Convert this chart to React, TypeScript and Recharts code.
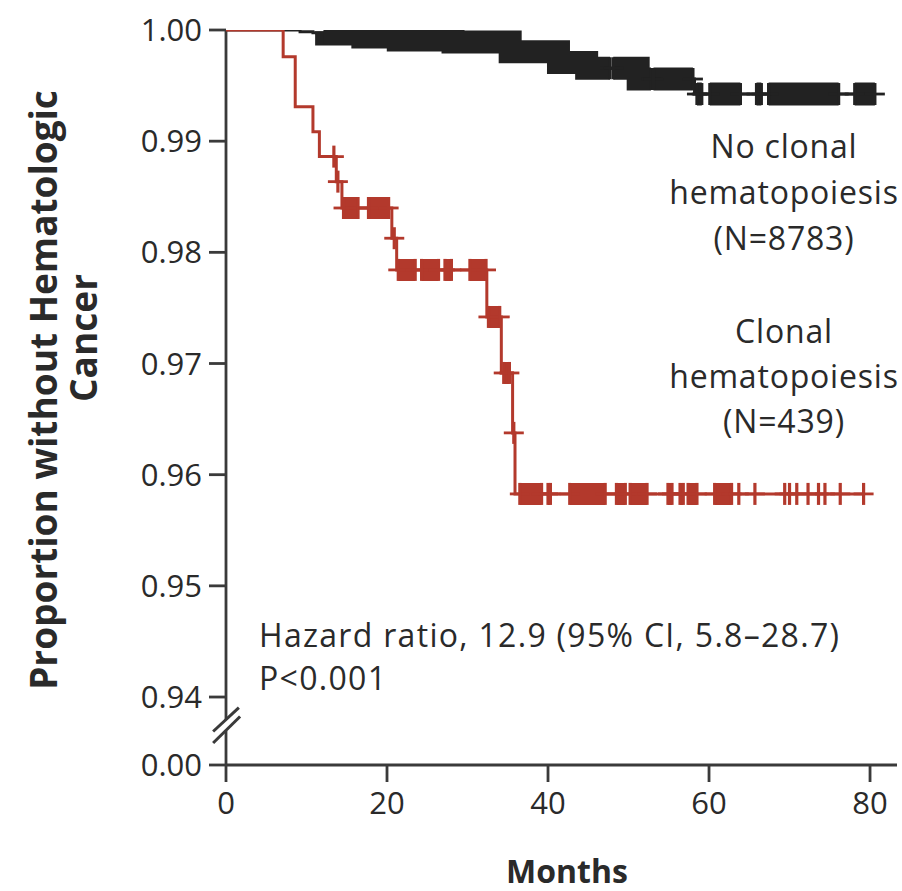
import React from 'react';
import { ComposedChart, Line, Scatter, XAxis, YAxis, ReferenceLine } from 'recharts';

// ---------- DATA ----------
// Kaplan-Meier step points [month, proportion without hematologic cancer]
const clonalSteps: number[][] = [
  [0, 1.0], [7.1, 0.9976], [8.6, 0.9931], [10.8, 0.99085], [11.6, 0.98861],
  [13.7, 0.98636], [14.4, 0.98399], [20.6, 0.98127], [21.2, 0.97842],
  [32.4, 0.97419], [34.2, 0.96915], [35.6, 0.96376], [35.9, 0.95827],
];
const clonalEnd = 79.2;
const noClonalSteps: number[][] = [
  [0, 1.0], [9.2, 0.99985], [10.8, 0.99975], [12.5, 0.99965], [17.0, 0.99937],
  [21.4, 0.9991], [28.2, 0.99892], [35.3, 0.99805], [41.3, 0.99708],
  [44.8, 0.99656], [51.2, 0.99559], [58.2, 0.99424],
];
const noClonalEnd = 80.6;

// Censoring runs [first censor month, last censor month]
const clonalCensorRuns: number[][] = [
  [13.4, 13.4], [13.9, 13.9], [14.6, 16.4], [17.7, 20.2], [20.9, 20.9],
  [21.4, 23.5], [24.3, 26.4], [27.2, 28.0], [30.3, 32.3], [32.6, 34.0],
  [34.5, 35.2], [35.75, 35.75], [36.5, 39.2], [40.0, 40.3], [42.7, 47.1],
  [48.5, 49.6], [50.2, 52.3], [54.9, 55.4], [56.4, 56.8], [57.4, 58.5],
  [60.7, 62.8], [63.7, 63.7], [65.7, 65.7], [69.4, 69.4], [70.0, 70.0],
  [70.9, 70.9], [72.3, 72.3], [73.6, 73.6], [74.4, 74.4], [76.3, 76.3],
  [79.2, 79.2],
];
const noClonalCensorRuns: number[][] = [
  [12.3, 47.7], [48.1, 52.8], [53.1, 58.0], [58.5, 59.1], [60.1, 63.9],
  [65.9, 66.5], [67.4, 76.1], [78.1, 80.6],
];

const xTicks = [0, 20, 40, 60, 80];
const xDomain = [0, 83.35];
const yTickValues = [0.933885, 0.94, 0.95, 0.96, 0.97, 0.98, 0.99, 1.0];
const yTickLabels = ['0.00', '0.94', '0.95', '0.96', '0.97', '0.98', '0.99', '1.00'];
const yDomain = [0.933885, 1.0];
// axis break geometry (data coordinates)
const axisUpper = [1.0, 0.93795];
const axisLower = [0.93696, 0.933885];
const slashA = [[-1.6, 0.9369], [1.6, 0.93905]];
const slashB = [[-1.6, 0.93586], [1.75, 0.93825]];

const noClonalLabel = ['No clonal', 'hematopoiesis', '(N=8783)'];
const clonalLabel = ['Clonal', 'hematopoiesis', '(N=439)'];
const statsLabel = ['Hazard ratio, 12.9 (95% CI, 5.8\u201328.7)', 'P<0.001'];
const yTitle = ['Proportion without Hematologic', 'Cancer'];
const xTitle = 'Months';

// ---------- STYLE ----------
const RED = '#b3392c';
const BLACK = '#222222';
const AXIS = '#3a3a3a';
const TEXT = '#2a2a2a';
const FONT = '"Open Sans", "Noto Sans", sans-serif';

type P = { t: number; v: number | null };

const valueAt = (steps: number[][], t: number) => {
  let v = steps[0][1];
  for (const s of steps) if (s[0] <= t) v = s[1];
  return v;
};

const curveData = (steps: number[][], end: number): P[] => {
  const pts: P[] = steps.map((s) => ({ t: s[0], v: s[1] }));
  pts.push({ t: end, v: steps[steps.length - 1][1] });
  return pts;
};

const bandData = (steps: number[][], runs: number[][]): P[] => {
  const pts: P[] = [];
  runs.forEach(([a, b]) => {
    if (b <= a) return;
    pts.push({ t: a, v: valueAt(steps, a) });
    steps.forEach((s) => {
      if (s[0] > a && s[0] <= b) pts.push({ t: s[0], v: s[1] });
    });
    pts.push({ t: b, v: valueAt(steps, b) });
    pts.push({ t: b, v: null });
  });
  return pts;
};

const censorData = (steps: number[][], runs: number[][]): P[] => {
  const pts: P[] = [];
  runs.forEach(([a, b]) => {
    pts.push({ t: a, v: valueAt(steps, a) });
    if (b > a) pts.push({ t: b, v: valueAt(steps, b) });
  });
  return pts;
};

const CensorMark = ({ cx, cy, color }: { cx: number; cy: number; color: string }) => (
  <g>
    <line x1={cx - 10} x2={cx + 10} y1={cy} y2={cy} stroke={color} strokeWidth={2.8} />
    <line x1={cx} x2={cx} y1={cy - 11} y2={cy + 11} stroke={color} strokeWidth={3.2} />
  </g>
);

export default function App() {
  const redLine = curveData(clonalSteps, clonalEnd);
  const blackLine = curveData(noClonalSteps, noClonalEnd);
  const redBand = bandData(clonalSteps, clonalCensorRuns);
  const blackBand = bandData(noClonalSteps, noClonalCensorRuns);
  const redCensors = censorData(clonalSteps, clonalCensorRuns);
  const blackCensors = censorData(noClonalSteps, noClonalCensorRuns);

  const txt = { fill: TEXT, fontFamily: FONT } as const;

  return (
    <div style={{ position: 'absolute', left: 0, top: 0, width: 902, height: 891, background: '#fff' }}>
      <ComposedChart width={902} height={891} margin={{ top: 30, right: 5, bottom: 66, left: 0 }}>
        <XAxis
          type="number"
          dataKey="t"
          domain={xDomain}
          ticks={xTicks}
          allowDataOverflow
          height={60}
          tickSize={17}
          tickMargin={10}
          axisLine={{ stroke: AXIS, strokeWidth: 2.8 }}
          tickLine={{ stroke: AXIS, strokeWidth: 2.8 }}
          tick={{ fill: TEXT, fontSize: 31, fontFamily: FONT }}
        />
        <YAxis
          type="number"
          domain={yDomain}
          ticks={yTickValues}
          allowDataOverflow
          width={226}
          tickSize={17}
          tickMargin={7}
          axisLine={false}
          tickLine={{ stroke: AXIS, strokeWidth: 2.8 }}
          tick={{ fill: TEXT, fontSize: 31, fontFamily: FONT }}
          tickFormatter={(_v: number, i: number) => yTickLabels[i]}
        />
        <ReferenceLine ifOverflow="visible" stroke={AXIS} strokeWidth={2.8}
          segment={[{ x: 0, y: axisUpper[0] }, { x: 0, y: axisUpper[1] }]} />
        <ReferenceLine ifOverflow="visible" stroke={AXIS} strokeWidth={2.8}
          segment={[{ x: 0, y: axisLower[0] }, { x: 0, y: axisLower[1] }]} />
        <ReferenceLine ifOverflow="visible" stroke={AXIS} strokeWidth={3}
          segment={[{ x: slashA[0][0], y: slashA[0][1] }, { x: slashA[1][0], y: slashA[1][1] }]} />
        <ReferenceLine ifOverflow="visible" stroke={AXIS} strokeWidth={3}
          segment={[{ x: slashB[0][0], y: slashB[0][1] }, { x: slashB[1][0], y: slashB[1][1] }]} />

        <Line data={blackLine} dataKey="v" type="stepAfter" stroke={BLACK} strokeWidth={3}
          dot={false} activeDot={false} isAnimationActive={false} />
        <Line data={blackBand} dataKey="v" type="stepAfter" stroke={BLACK} strokeWidth={23}
          strokeLinecap="butt" dot={false} activeDot={false} isAnimationActive={false} />
        <Scatter data={blackCensors} dataKey="v" isAnimationActive={false}
          shape={(p: any) => <CensorMark cx={p.cx} cy={p.cy} color={BLACK} />} />

        <Line data={redLine} dataKey="v" type="stepAfter" stroke={RED} strokeWidth={3}
          dot={false} activeDot={false} isAnimationActive={false} />
        <Line data={redBand} dataKey="v" type="stepAfter" stroke={RED} strokeWidth={22}
          strokeLinecap="butt" dot={false} activeDot={false} isAnimationActive={false} />
        <Scatter data={redCensors} dataKey="v" isAnimationActive={false}
          shape={(p: any) => <CensorMark cx={p.cx} cy={p.cy} color={RED} />} />
      </ComposedChart>

      <svg width={902} height={891} style={{ position: 'absolute', left: 0, top: 0, pointerEvents: 'none' }}>
        <text transform="translate(42,390) rotate(-90)" textAnchor="middle" dominantBaseline="central"
          fontSize={37} fontWeight={700} {...txt}>{yTitle[0]}</text>
        <text transform="translate(82,338) rotate(-90)" textAnchor="middle" dominantBaseline="central"
          fontSize={37} fontWeight={700} {...txt}>{yTitle[1]}</text>
        <text x={567} y={870} textAnchor="middle" dominantBaseline="central" fontSize={32} fontWeight={700} {...txt}>
          {xTitle}
        </text>
        {noClonalLabel.map((s, i) => (
          <text key={'n' + i} x={784} y={145 + i * 46} textAnchor="middle" dominantBaseline="central"
            fontSize={32} letterSpacing={0.8} {...txt}>{s}</text>
        ))}
        {clonalLabel.map((s, i) => (
          <text key={'c' + i} x={784} y={330 + i * 45} textAnchor="middle" dominantBaseline="central"
            fontSize={32} letterSpacing={0.8} {...txt}>{s}</text>
        ))}
        {statsLabel.map((s, i) => (
          <text key={'s' + i} x={259} y={634 + i * 43} textAnchor="start" dominantBaseline="central"
            fontSize={32} letterSpacing={1.3} {...txt}>{s}</text>
        ))}
      </svg>
    </div>
  );
}
